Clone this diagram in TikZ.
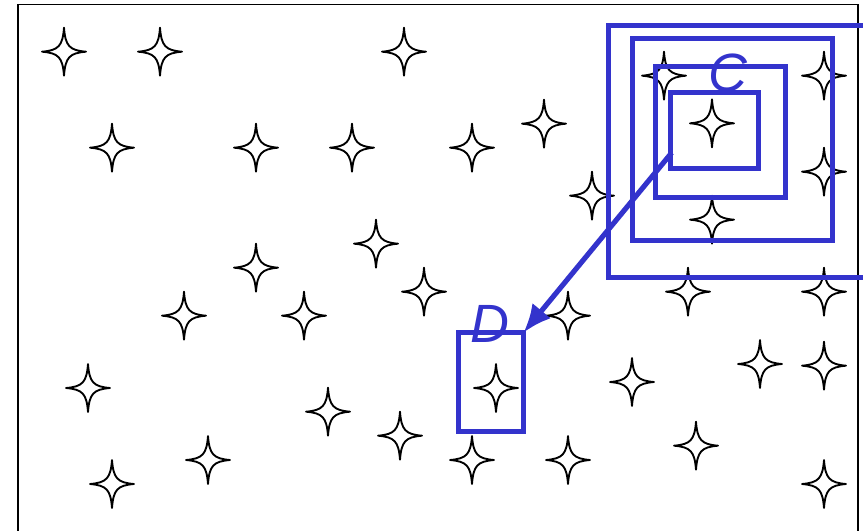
\documentclass[tikz,border=0pt]{standalone}
\usepackage{fontspec}
\setsansfont{Liberation Sans}
\usetikzlibrary{arrows.meta}
\definecolor{boxblue}{RGB}{51,51,204}
\tikzset{
  frame_line/.style = {draw=black, line width=1.5pt},% cadre
  star_line/.style = {draw=black, line width=1.6pt, line join=round},% etoile
  blue_box/.style = {draw=boxblue, line width=4.4pt},% fenetre bleue
  blue_label/.style = {text=boxblue, inner sep=0pt,
    font=\sffamily\itshape\fontsize{46}{46}\selectfont},% lettre
  sparkle/.pic = {\draw[star_line] (0,-24) .. controls (1.4,-5.5) and (5.5,-1.4) .. (22,0)
    .. controls (5.5,1.4) and (1.4,5.5) .. (0,24) .. controls (-1.4,5.5) and (-5.5,1.4) .. (-22,0)
    .. controls (-5.5,-1.4) and (-1.4,-5.5) .. cycle;}% etoile a quatre branches
}
\begin{document}
\begin{tikzpicture}[x=0.03cm, y=-0.03cm]
      \clip (0,0) rectangle (863,531);
      \draw[frame_line] (18,4.5) rectangle (858,560);
      \foreach \x/\y in {64/51.7, 160/51.7, 404/51.7, 664/75.7, 824/75.7,
          112/147.7, 256/147.7, 352/147.7, 472/147.7, 544/123.7, 712/123.3,
          592/195.7, 824/171.7, 712/219.7, 376/243.7, 256/267.7,
          424/291.7, 688/291.7, 824/291.7, 184/315.7, 304/315.7, 568/315.7,
          88/388, 496/388, 632/382, 760/364, 824/365.7,
          328/411.7, 400/435.7, 208/460, 472/460, 568/460, 696/445.7,
          112/484, 824/484}
        \pic at (\x,\y) {sparkle};
      % fenetres autour de C
      \draw[blue_box] (608.2,25.8) rectangle (900,277.5);
      \draw[blue_box] (632.5,38.2) rectangle (832.5,240.2);
      \draw[blue_box] (655.8,66.8) rectangle (785.2,197.5);
      \draw[blue_box] (670.2,92.5) rectangle (758.5,168.5);
      % fenetre D
      \draw[blue_box] (458.3,332.7) rectangle (523.5,431.3);
      \coordinate (c_start) at (671.7,152.7);
      \coordinate (d_corner) at (523.5,332.7);
      \node [blue_label] (c_label) at (728,73) {C};
      \node [blue_label] (d_label) at (490,323.5) {D};
      \draw[blue_box, -{Latex[length=0.85cm, width=0.72cm]}] (c_start) -- (d_corner);
    \end{tikzpicture}
\end{document}
